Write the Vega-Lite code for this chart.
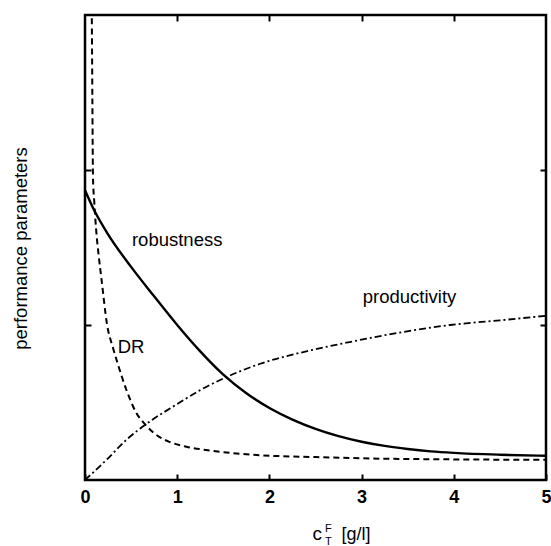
{
  "$schema": "https://vega.github.io/schema/vega-lite/v6.json",
  "width": 461,
  "height": 465,
  "autosize": {"type": "none"},
  "padding": {"left": 85, "top": 15, "right": 5, "bottom": 66},
  "background": "white",
  "config": {
    "font": "Liberation Sans",
    "view": {"stroke": "black", "strokeWidth": 2.5}
  },
  "datasets": {
    "curves": [
      {"series": "robustness", "x": 0.0, "y": 1.87},
      {"series": "robustness", "x": 0.1, "y": 1.74},
      {"series": "robustness", "x": 0.25, "y": 1.585},
      {"series": "robustness", "x": 0.5, "y": 1.375},
      {"series": "robustness", "x": 0.75, "y": 1.185},
      {"series": "robustness", "x": 1.0, "y": 1.0},
      {"series": "robustness", "x": 1.25, "y": 0.83},
      {"series": "robustness", "x": 1.5, "y": 0.68},
      {"series": "robustness", "x": 1.75, "y": 0.56},
      {"series": "robustness", "x": 2.0, "y": 0.465},
      {"series": "robustness", "x": 2.25, "y": 0.39},
      {"series": "robustness", "x": 2.5, "y": 0.33},
      {"series": "robustness", "x": 2.75, "y": 0.283},
      {"series": "robustness", "x": 3.0, "y": 0.247},
      {"series": "robustness", "x": 3.25, "y": 0.22},
      {"series": "robustness", "x": 3.5, "y": 0.2},
      {"series": "robustness", "x": 3.75, "y": 0.185},
      {"series": "robustness", "x": 4.0, "y": 0.175},
      {"series": "robustness", "x": 4.5, "y": 0.163},
      {"series": "robustness", "x": 5.0, "y": 0.156},
      {"series": "DR", "x": 0.07, "y": 3.3},
      {"series": "DR", "x": 0.075, "y": 2.9},
      {"series": "DR", "x": 0.08, "y": 2.45},
      {"series": "DR", "x": 0.087, "y": 1.94},
      {"series": "DR", "x": 0.1, "y": 1.8},
      {"series": "DR", "x": 0.12, "y": 1.62},
      {"series": "DR", "x": 0.15, "y": 1.44},
      {"series": "DR", "x": 0.18, "y": 1.29},
      {"series": "DR", "x": 0.24, "y": 1.0},
      {"series": "DR", "x": 0.3, "y": 0.86},
      {"series": "DR", "x": 0.35, "y": 0.76},
      {"series": "DR", "x": 0.45, "y": 0.58},
      {"series": "DR", "x": 0.55, "y": 0.44},
      {"series": "DR", "x": 0.65, "y": 0.36},
      {"series": "DR", "x": 0.8, "y": 0.28},
      {"series": "DR", "x": 0.92, "y": 0.245},
      {"series": "DR", "x": 1.1, "y": 0.215},
      {"series": "DR", "x": 1.36, "y": 0.19},
      {"series": "DR", "x": 1.9, "y": 0.16},
      {"series": "DR", "x": 2.5, "y": 0.148},
      {"series": "DR", "x": 3.0, "y": 0.14},
      {"series": "DR", "x": 4.0, "y": 0.133},
      {"series": "DR", "x": 5.0, "y": 0.13},
      {"series": "productivity", "x": 0.0, "y": 0.0},
      {"series": "productivity", "x": 0.1, "y": 0.055},
      {"series": "productivity", "x": 0.25, "y": 0.14},
      {"series": "productivity", "x": 0.45, "y": 0.26},
      {"series": "productivity", "x": 0.65, "y": 0.355},
      {"series": "productivity", "x": 1.0, "y": 0.49},
      {"series": "productivity", "x": 1.25, "y": 0.58},
      {"series": "productivity", "x": 1.52, "y": 0.66},
      {"series": "productivity", "x": 1.9, "y": 0.75},
      {"series": "productivity", "x": 2.4, "y": 0.83},
      {"series": "productivity", "x": 2.87, "y": 0.89},
      {"series": "productivity", "x": 3.4, "y": 0.95},
      {"series": "productivity", "x": 3.96, "y": 1.0},
      {"series": "productivity", "x": 4.5, "y": 1.03},
      {"series": "productivity", "x": 5.0, "y": 1.06}
    ],
    "notes": [
      {"label": "robustness", "x": 1.0, "y": 1.55},
      {"label": "DR", "x": 0.5, "y": 0.86},
      {"label": "productivity", "x": 3.52, "y": 1.18}
    ]
  },
  "layer": [
    {
      "data": {"name": "curves"},
      "transform": [{"filter": "datum.series === 'robustness'"}],
      "mark": {"type": "line", "color": "black", "strokeWidth": 2.4, "interpolate": "monotone", "clip": true},
      "encoding": {
        "x": {
          "field": "x", "type": "quantitative",
          "scale": {"domain": [0, 5], "nice": false, "zero": false},
          "axis": {
            "orient": "bottom", "values": [0, 1, 2, 3, 4, 5], "title": null,
            "domain": false, "grid": false,
            "tickSize": -6, "tickWidth": 2, "tickColor": "black",
            "labelFontSize": 18, "labelFontWeight": "bold", "labelColor": "black",
            "labelPadding": 14, "labelFlush": false, "labelBound": false
          }
        },
        "y": {
          "field": "y", "type": "quantitative",
          "scale": {"domain": [0, 3], "nice": false},
          "axis": {
            "orient": "left", "values": [1, 2], "labels": false,
            "domain": false, "grid": false,
            "tickSize": -6, "tickWidth": 2, "tickColor": "black",
            "title": "performance parameters", "titleFontSize": 18.5, "titleFontWeight": "normal",
            "titleColor": "black", "titleAngle": -90, "titleX": -65, "titleY": 233,
            "titleAlign": "center", "titleBaseline": "middle"
          }
        }
      }
    },
    {
      "data": {"name": "curves"},
      "transform": [{"filter": "datum.series === 'DR'"}],
      "mark": {"type": "line", "color": "black", "strokeWidth": 2, "strokeDash": [6, 4], "interpolate": "monotone", "clip": true},
      "encoding": {
        "x": {"field": "x", "type": "quantitative", "axis": null},
        "y": {"field": "y", "type": "quantitative", "axis": null}
      }
    },
    {
      "data": {"name": "curves"},
      "transform": [{"filter": "datum.series === 'productivity'"}],
      "mark": {"type": "line", "color": "black", "strokeWidth": 1.8, "strokeDash": [7, 3, 2, 3], "interpolate": "monotone", "clip": true},
      "encoding": {
        "x": {
          "field": "x", "type": "quantitative",
          "axis": {
            "orient": "top", "values": [1, 2, 3, 4], "labels": false, "title": null,
            "domain": false, "grid": false,
            "tickSize": -6, "tickWidth": 2, "tickColor": "black"
          }
        },
        "y": {
          "field": "y", "type": "quantitative",
          "axis": {
            "orient": "right", "values": [1, 2], "labels": false, "title": null,
            "domain": false, "grid": false,
            "tickSize": -6, "tickWidth": 2, "tickColor": "black"
          }
        }
      }
    },
    {
      "data": {"name": "notes"},
      "mark": {"type": "text", "fontSize": 18.5, "color": "black", "align": "center", "baseline": "middle"},
      "encoding": {
        "x": {"field": "x", "type": "quantitative", "axis": null},
        "y": {"field": "y", "type": "quantitative", "axis": null},
        "text": {"field": "label"}
      }
    },
    {
      "data": {"values": [{"part": "c"}]},
      "mark": {"type": "text", "fontSize": 19, "color": "black", "align": "center", "baseline": "alphabetic"},
      "encoding": {
        "x": {"datum": 2.52, "type": "quantitative", "axis": null},
        "y": {"datum": -0.387, "type": "quantitative", "axis": null},
        "text": {"field": "part"}
      }
    },
    {
      "data": {"values": [{"part": "F"}]},
      "mark": {"type": "text", "fontSize": 11, "color": "black", "align": "center", "baseline": "alphabetic"},
      "encoding": {
        "x": {"datum": 2.64, "type": "quantitative", "axis": null},
        "y": {"datum": -0.335, "type": "quantitative", "axis": null},
        "text": {"field": "part"}
      }
    },
    {
      "data": {"values": [{"part": "T"}]},
      "mark": {"type": "text", "fontSize": 11, "color": "black", "align": "center", "baseline": "alphabetic"},
      "encoding": {
        "x": {"datum": 2.64, "type": "quantitative", "axis": null},
        "y": {"datum": -0.42, "type": "quantitative", "axis": null},
        "text": {"field": "part"}
      }
    },
    {
      "data": {"values": [{"part": "[g/l]"}]},
      "mark": {"type": "text", "fontSize": 18, "color": "black", "align": "center", "baseline": "alphabetic"},
      "encoding": {
        "x": {"datum": 2.94, "type": "quantitative", "axis": null},
        "y": {"datum": -0.387, "type": "quantitative", "axis": null},
        "text": {"field": "part"}
      }
    }
  ],
  "resolve": {"axis": {"x": "independent", "y": "independent"}}
}
